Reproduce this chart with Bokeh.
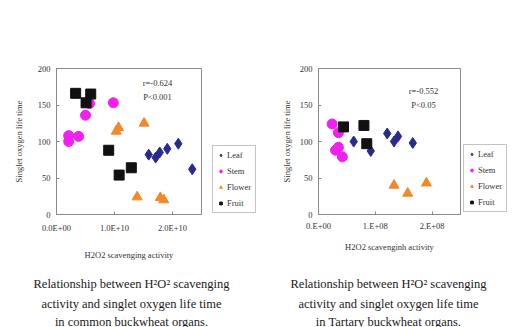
from bokeh.plotting import figure
from bokeh.layouts import row, column
from bokeh.models import Range1d, FixedTicker, Legend, LegendItem, Label
from bokeh.embed import file_html
from bokeh.resources import INLINE

# ---- data: common buckwheat ----
leaf_x_c = [1.59e10, 1.71e10, 1.78e10, 1.91e10, 2.10e10, 2.34e10]
leaf_y_c = [82, 78, 85, 90, 97, 62]
stem_x_c = [0.21e10, 0.21e10, 0.38e10, 0.50e10, 0.57e10, 0.98e10]
stem_y_c = [108, 100, 107, 136, 152, 153]
flower_x_c = [1.03e10, 1.07e10, 1.51e10, 1.39e10, 1.79e10, 1.85e10]
flower_y_c = [114, 119, 125, 24, 23, 20]
fruit_x_c = [0.33e10, 0.51e10, 0.59e10, 0.90e10, 1.08e10, 1.29e10]
fruit_y_c = [166, 153, 165, 88, 54, 64]

# ---- data: Tartary buckwheat ----
leaf_x_t = [0.62e8, 0.92e8, 1.21e8, 1.33e8, 1.40e8, 1.66e8]
leaf_y_t = [100, 87, 111, 100, 107, 98]
stem_x_t = [0.24e8, 0.35e8, 0.30e8, 0.35e8, 0.42e8]
stem_y_t = [124, 112, 88, 92, 79]
flower_x_t = [1.33e8, 1.57e8, 1.90e8]
flower_y_t = [40, 29, 43]
fruit_x_t = [0.44e8, 0.80e8, 0.85e8]
fruit_y_t = [120, 122, 97]

y_ticks = [0, 50, 100, 150, 200]
x_ticks_c = [0, 1e10, 2e10]
x_labels_c = ["0.0E+00", "1.0E+10", "2.0E+10"]
x_ticks_t = [0, 1e8, 2e8]
x_labels_t = ["0.E+00", "1.E+08", "2.E+08"]

series_names = ["Leaf", "Stem", "Flower", "Fruit"]
caption_c = ["Relationship between H\u00b2O\u00b2 scavenging",
             "activity and singlet oxygen life time",
             "in common buckwheat organs."]
caption_t = ["Relationship between H\u00b2O\u00b2 scavenging",
             "activity and singlet oxygen life time",
             "in Tartary buckwheat organs."]

FONT = "Liberation Serif"
GRAY = "#8a8a8a"
TXT = "#333333"
colors = {"Leaf": "#2a2a8c", "Stem": "#f020f0", "Flower": "#f08a28", "Fruit": "#111111"}
markers = {"Leaf": ("diamond", 11), "Stem": ("circle", 10),
           "Flower": ("triangle", 10), "Fruit": ("square", 10)}

TOP_H = 268
CAP_H = 59


def blank(width, height):
    f = figure(width=width, height=height, x_range=Range1d(0, width),
               y_range=Range1d(0, height), output_backend="svg",
               toolbar_location=None, min_border=0,
               x_axis_type=None, y_axis_type=None)
    f.grid.visible = False
    f.outline_line_color = None
    f.border_fill_color = "white"
    f.background_fill_color = "white"
    return f


def make_plot(data, xmax, xticks, xlabels, xtitle, stats,
              bl, fw, br, bt, fh, ystand, xstand, xlstand, stats_pos):
    p = figure(width=bl + fw + br, height=TOP_H,
               x_range=Range1d(0, xmax), y_range=Range1d(0, 200),
               output_backend="svg", toolbar_location=None,
               min_border_left=bl, min_border_right=br,
               min_border_top=bt, min_border_bottom=TOP_H - bt - fh)
    p.xgrid.visible = False
    p.ygrid.visible = False
    p.outline_line_color = GRAY
    p.outline_line_width = 1
    p.background_fill_color = "white"
    p.border_fill_color = "white"

    for ax in (p.xaxis[0], p.yaxis[0]):
        ax.axis_line_color = GRAY
        ax.major_tick_line_color = GRAY
        ax.minor_tick_line_color = None
        ax.major_tick_in = 3
        ax.major_tick_out = 0
        ax.major_label_text_font = FONT
        ax.major_label_text_font_size = "8.5px"
        ax.major_label_text_color = TXT
        ax.axis_label_text_font = FONT
        ax.axis_label_text_font_size = "8.5px"
        ax.axis_label_text_font_style = "normal"
        ax.axis_label_text_color = TXT

    p.yaxis.ticker = FixedTicker(ticks=y_ticks)
    p.yaxis.axis_label = "Singlet oxygen life time"
    p.yaxis.major_label_standoff = 6
    p.yaxis.axis_label_standoff = ystand
    p.xaxis.ticker = FixedTicker(ticks=xticks)
    p.xaxis.major_label_overrides = {t: l for t, l in zip(xticks, xlabels)}
    p.xaxis.axis_label = xtitle
    p.xaxis.major_label_standoff = xlstand
    p.xaxis.axis_label_standoff = xstand

    for name in series_names:
        xs, ys = data[name]
        m, s = markers[name]
        p.scatter(xs, ys, marker=m, size=s, fill_color=colors[name],
                  line_color=colors[name])

    sx, sy = stats_pos
    for i, t in enumerate(stats):
        p.add_layout(Label(x=sx, y=sy - i * 14, x_units="screen", y_units="screen",
                           text=t, text_font=FONT, text_font_size="8.5px",
                           text_color=TXT, text_align="center",
                           text_baseline="middle"))
    return p


def make_legend(width, data, lx, ly):
    # legend panel: proxy renderers (hidden) carry the series styling
    f = blank(width, TOP_H)
    items = []
    for name in series_names:
        xs, ys = data[name]
        m, s = markers[name]
        r = f.scatter(xs, ys, marker=m, size=s, fill_color=colors[name],
                      line_color=colors[name], visible=False)
        items.append(LegendItem(label=name, renderers=[r]))
    leg = Legend(items=items, location=(lx, ly),
                 label_text_font=FONT, label_text_font_size="8.5px",
                 label_text_color=TXT, glyph_height=10, glyph_width=7,
                 label_height=10, label_standoff=3, spacing=6, padding=4,
                 margin=0, border_line_color=GRAY, border_line_width=1,
                 background_fill_color="white", inactive_fill_alpha=0)
    f.add_layout(leg, "center")
    return f


def make_caption(width, lines, cx):
    f = blank(width, CAP_H)
    for i, t in enumerate(lines):
        f.add_layout(Label(x=cx, y=[44, 24, 6][i], x_units="screen", y_units="screen",
                           text=t, text_font=FONT, text_font_size="12.5px",
                           text_color="#1a1a1a", text_align="center",
                           text_baseline="middle"))
    return f


data_c = {"Leaf": (leaf_x_c, leaf_y_c), "Stem": (stem_x_c, stem_y_c),
          "Flower": (flower_x_c, flower_y_c), "Fruit": (fruit_x_c, fruit_y_c)}
data_t = {"Leaf": (leaf_x_t, leaf_y_t), "Stem": (stem_x_t, stem_y_t),
          "Flower": (flower_x_t, flower_y_t), "Fruit": (fruit_x_t, fruit_y_t)}

a1 = make_plot(data_c, 2.5e10, x_ticks_c, x_labels_c, "H2O2 scavenging activity",
               ["r=-0.624", "P<0.001"], 56, 145, 5, 67, 148, 11, 14, 8, (101, 132))
l1 = make_legend(50, data_c, 6, 1)
a2 = make_plot(data_t, 2.5e8, x_ticks_t, x_labels_t, "H2O2 scavenginh activity",
               ["r=-0.552", "P<0.05"], 62, 142, 1, 68, 146, 5, 8, 6, (105, 124))
l2 = make_legend(49, data_t, 2, 2)
c1 = make_caption(256, caption_c, 131)
c2 = make_caption(248, caption_t, 132)

layout = column(row(a1, l1, a2, l2, spacing=0), row(c1, c2, spacing=0), spacing=0)
open("out.html", "w").write(file_html(layout, INLINE))
